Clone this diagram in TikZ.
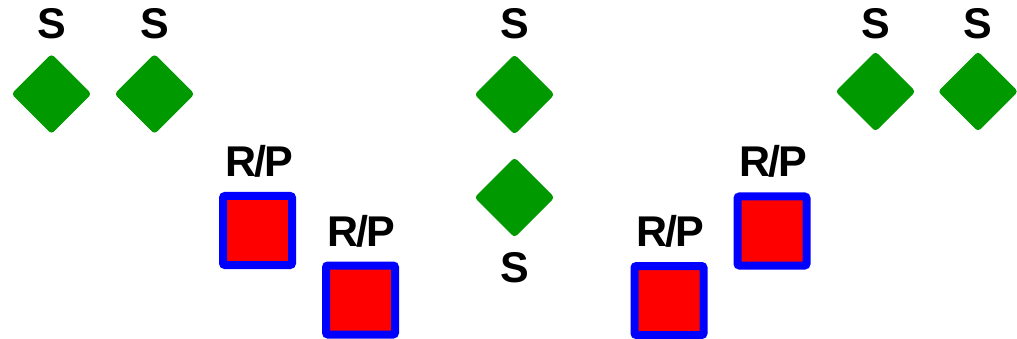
\documentclass[tikz,border=0pt]{standalone}
\usepackage{fontspec}
\setmainfont{Liberation Sans}
\usetikzlibrary{shapes.geometric}
\definecolor{sgreen}{RGB}{0,153,0}
\tikzset{
  snode/.style={diamond, fill=sgreen, draw=sgreen, line width=1pt, rounded corners=3pt, minimum width=79pt, minimum height=79pt, inner sep=0pt},
  rpnode/.style={rectangle, fill=red, draw=blue, line width=8pt, rounded corners=2pt, minimum width=69pt, minimum height=69pt, inner sep=0pt},
  lbl/.style={anchor=base, inner sep=0pt, font=\fontsize{43}{50}\selectfont\bfseries}
}
\newcommand{\rptext}{R\kern-2pt/\kern-2pt P}
\begin{document}
\begin{tikzpicture}[x=1pt,y=-1pt]
\useasboundingbox (0,0) rectangle (1017,339);
% diamonds
\node[snode] (d1) at (51.5,94) {};
\node[snode] (d2) at (154.5,94) {};
\node[snode] (d3) at (514.5,94.5) {};
\node[snode] (d4) at (514.5,197.5) {};
\node[snode] (d5) at (875.5,91.5) {};
\node[snode] (d6) at (978,91.5) {};
% S labels
\node[lbl] (s1) at (51.5,39) {S};
\node[lbl] (s2) at (154.5,39) {S};
\node[lbl] (s3) at (514.5,39) {S};
\node[lbl] (s4) at (514.5,282) {S};
\node[lbl] (s5) at (875.5,38.5) {S};
\node[lbl] (s6) at (978,38.5) {S};
% squares
\node[rpnode] (r1) at (257.5,230.5) {};
\node[rpnode] (r2) at (360.5,300) {};
\node[rpnode] (r3) at (669,300.5) {};
\node[rpnode] (r4) at (772,231) {};
% R/P labels
\node[lbl] (l1) at (259,177) {\rptext};
\node[lbl] (l2) at (361,247) {\rptext};
\node[lbl] (l3) at (670,247) {\rptext};
\node[lbl] (l4) at (773,177) {\rptext};
\end{tikzpicture}
\end{document}
